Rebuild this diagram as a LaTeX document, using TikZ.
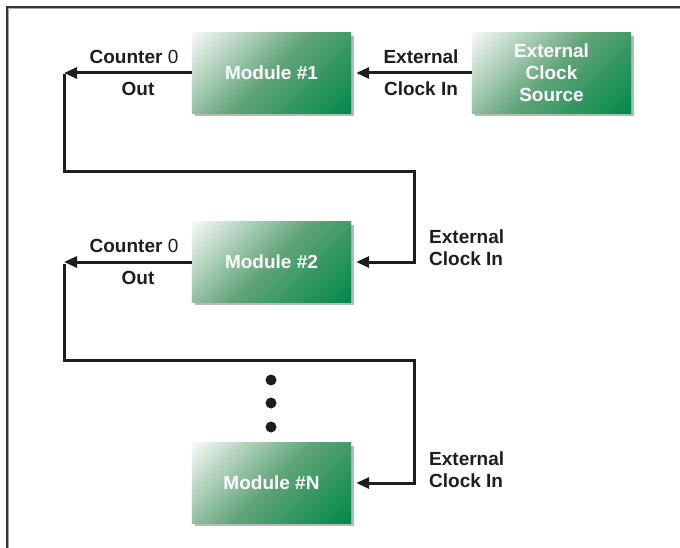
\documentclass[tikz,border=0pt]{standalone}
\usepackage{fontspec}
\setmainfont{Liberation Sans}
\usetikzlibrary{arrows.meta,backgrounds}
\definecolor{mgreen}{RGB}{0,136,74}
\definecolor{mmid}{RGB}{98,164,122}
\definecolor{mlight}{RGB}{250,251,250}
\definecolor{ink}{RGB}{30,30,30}
\newcommand\modfill[1]{%
  \begin{scope}[on background layer]
    \fill[black!28] ([shift={(3,3)}]#1.north west) rectangle ([shift={(3,3)}]#1.south east);
    \begin{scope}
      \clip (#1.north west) rectangle (#1.south east);
      \begin{scope}[shift={(#1.center)}]
        \foreach \i in {0,...,84}{%
          \pgfmathsetmacro\sa{-84.5+2*\i}%
          \pgfmathsetmacro\sb{\sa+2.7}%
          \pgfmathsetmacro\f{(\i+0.5)/85}%
          \pgfmathtruncatemacro\p{\f<0.5 ? 100-200*\f : 200-200*\f}%
          \ifdim\f pt<0.5pt \colorlet{bandc}{mlight!\p!mmid}\else\colorlet{bandc}{mmid!\p!mgreen}\fi
          \fill[bandc] ({0.7071*(\sa-130)},{0.7071*(\sa+130)}) -- ({0.7071*(\sa+130)},{0.7071*(\sa-130)})
            -- ({0.7071*(\sb+130)},{0.7071*(\sb-130)}) -- ({0.7071*(\sb-130)},{0.7071*(\sb+130)}) -- cycle;
        }
      \end{scope}
    \end{scope}
  \end{scope}}
\tikzset{
  module/.style={minimum width=159pt, minimum height=80pt, inner sep=0pt,
    text=white, font=\bfseries\fontsize{19}{22}\selectfont, align=center},
  conn/.style={line width=3pt, draw=ink, -{Triangle[length=13pt,width=11pt]}},
  lbl/.style={font=\bfseries\fontsize{19}{22}\selectfont, text=ink, inner sep=0pt},
  dot/.style={circle, fill=ink, minimum size=11pt, inner sep=0pt},
  frame/.style={line width=1.6pt, draw=black!80},
  frameshade/.style={line width=1.2pt, draw=black!35},
}
\begin{document}
\begin{tikzpicture}[x=1pt,y=-1pt]
\useasboundingbox (0,0) rectangle (680,548);
% frame
\draw[frameshade] (8.7,548) -- (8.7,8.7) -- (680,8.7);
\draw[frame] (7,548) -- (7,7) -- (680,7);
% modules
\node[module] (m1) at (271.5,73) {Module \#1};
\node[module] (src) at (551.5,73) {External\\Clock\\Source};
\node[module] (m2) at (271.5,262) {Module \#2};
\node[module] (mn) at (271.5,483) {Module \#N};
\modfill{m1}
\modfill{src}
\modfill{m2}
\modfill{mn}
% coordinates
\coordinate (c1) at (64,73);
\coordinate (r1) at (414,172);
\coordinate (c2) at (64,262);
\coordinate (r2) at (414,360);
% connectors
\draw[conn, shorten >=5pt] (src.west) -- (m1.east);
\draw[conn] (m1.west) -- (c1);
\draw[conn, shorten >=5pt] ([yshift=-1.5pt]c1) |- (r1) |- (m2.east);
\draw[conn] (m2.west) -- (c2);
\draw[conn, shorten >=5pt] ([yshift=-1.5pt]c2) |- (r2) |- (mn.east);
% dots
\node[dot] (d1) at (271,380) {};
\node[dot] (d2) at (271,403) {};
\node[dot] (d3) at (271,427) {};
% labels
\node[lbl] (lc0) at (134,57) {Counter \textmd{0}};
\node[lbl] (lo1) at (138,89) {Out};
\node[lbl] (le1) at (421,57) {External};
\node[lbl] (lk1) at (421,89) {Clock In};
\node[lbl] (lc02) at (134,246) {Counter \textmd{0}};
\node[lbl] (lo2) at (138,278) {Out};
\node[lbl, align=left, anchor=west] (le2) at (429,248) {External\\Clock In};
\node[lbl, align=left, anchor=west] (le3) at (429,470) {External\\Clock In};
\end{tikzpicture}
\end{document}
